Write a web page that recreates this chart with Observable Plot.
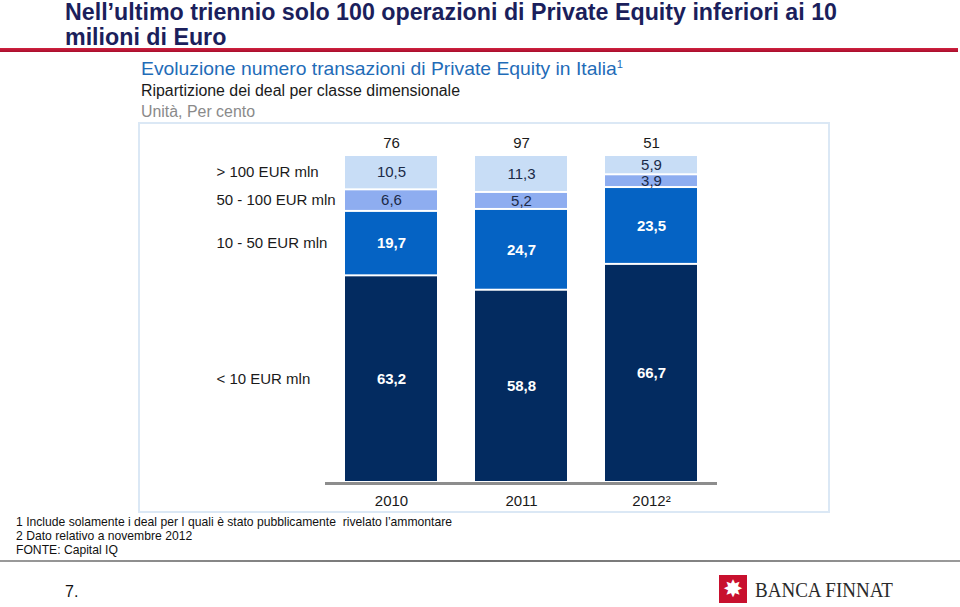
<!DOCTYPE html>
<html><head><meta charset="utf-8">
<script src="https://cdn.jsdelivr.net/npm/d3@7"></script>
<script src="https://cdn.jsdelivr.net/npm/@observablehq/plot@0.6"></script>
<style>
body{margin:0;width:960px;height:607px;position:relative;overflow:hidden;background:#fff;font-family:"Liberation Sans",Arial,sans-serif;}
.abs{position:absolute;white-space:nowrap;transform-origin:0 0;}
</style></head><body>
<div id="t1" class="abs" style="left:65px;top:1px;font-size:23px;line-height:23px;font-weight:bold;color:#1b1f5c;">Nell’ultimo triennio solo 100 operazioni di Private Equity inferiori ai 10</div>
<div id="t2" class="abs" style="left:65px;top:26px;font-size:23px;line-height:23px;font-weight:bold;color:#1b1f5c;">milioni di Euro</div>
<div class="abs" style="left:0;top:48px;width:958px;height:4px;background:linear-gradient(#d0223f,#a80d2c);"></div>
<div id="s1" class="abs" style="left:141px;top:55px;font-size:19px;line-height:19px;color:#1f6cb8;">Evoluzione numero transazioni di Private Equity in Italia<sup style="font-size:11px;vertical-align:7px;">1</sup></div>
<div id="s2" class="abs" style="left:141px;top:83px;font-size:16px;line-height:16px;color:#1a1a1a;">Ripartizione dei deal per classe dimensionale</div>
<div id="s3" class="abs" style="left:141px;top:104px;font-size:16px;line-height:16px;color:#8a8a8a;">Unità, Per cento</div>
<div class="abs" style="left:138px;top:122px;width:692px;height:391px;box-sizing:border-box;border:2px solid #dbe8f5;"></div>
<div id="chart" class="abs" style="left:138px;top:123px;"></div>
<div id="f1" class="abs" style="left:16px;top:515px;font-size:13.5px;line-height:13.5px;color:#111;">1 Include solamente i deal per I quali è stato pubblicamente&nbsp; rivelato l’ammontare</div>
<div id="f2" class="abs" style="left:16px;top:529px;font-size:13.5px;line-height:13.5px;color:#111;">2 Dato relativo a novembre 2012</div>
<div id="f3" class="abs" style="left:16px;top:543px;font-size:13.5px;line-height:13.5px;color:#111;">FONTE: Capital IQ</div>
<div class="abs" style="left:0;top:560px;width:960px;height:2px;background:linear-gradient(90deg,#9a9a9a,#6f6f6f 50%,#9a9a9a);"></div>
<div class="abs" style="left:65px;top:584px;font-size:16px;line-height:16px;color:#111;">7.</div>
<div class="abs" style="left:719px;top:575px;width:28px;height:28px;background:#c8102e;color:#fff;font-family:'DejaVu Sans';font-size:24px;line-height:28px;text-align:center;">✸</div>
<div id="logo" class="abs" style="left:755px;top:580px;font-family:'Liberation Serif','Times New Roman',serif;font-size:20px;line-height:20px;color:#2a2a2a;">BANCA FINNAT</div>
<script>
const years = ["2010", "2011", "2012"];
const yearLabels = ["2010", "2011", "2012²"];
const totals = [76, 97, 51];
const classes = ["< 10 EUR mln", "10 - 50 EUR mln", "50 - 100 EUR mln", "> 100 EUR mln"];
const under10 = [63.2, 58.8, 66.7];
const from10to50 = [19.7, 24.7, 23.5];
const from50to100 = [6.6, 5.2, 3.9];
const over100 = [10.5, 11.3, 5.9];
const colors = ["#032b60", "#0563c4", "#8eadf0", "#c8ddf6"];

const series = [under10, from10to50, from50to100, over100];
const rows = [];
classes.forEach((c, i) => years.forEach((y, j) => rows.push({year: y, cls: c, value: series[i][j], dark: i < 2})));
const fmt = v => v.toFixed(1).replace(".", ",");
const stack = o => Plot.stackY({x: "year", y: "value", z: "cls", order: classes, ...o});

const chart = Plot.plot({
  width: 692, height: 390,
  marginLeft: 169, marginRight: 95, marginTop: 32, marginBottom: 31,
  x: {domain: years, padding: 0.29, axis: null},
  y: {domain: [0, 100], axis: null},
  color: {domain: classes, range: colors},
  style: {fontFamily: "'Liberation Sans', Arial, sans-serif", fontSize: "15px", background: "transparent", overflow: "visible"},
  marks: [
    Plot.barY(rows, stack({fill: "cls", insetTop: 1, insetBottom: 1})),
    Plot.ruleY([0], {stroke: "#8d8d8d", strokeWidth: 3, insetLeft: 18, insetRight: 18, dy: 1}),
    Plot.text(rows, stack({text: d => d.dark ? fmt(d.value) : null, fill: "white", fontWeight: "bold"})),
    Plot.text(rows, stack({text: d => d.dark ? null : fmt(d.value), fill: "#1b2a48"})),
    Plot.text(rows, stack({text: d => d.year === "2010" ? d.cls : null, dx: -175, textAnchor: "start", fill: "#1a1a1a"})),
    Plot.text(years, {x: d => d, y: () => 100, text: (d, i) => String(totals[i]), dy: -12, fill: "#1a1a1a"}),
    Plot.text(years, {x: d => d, y: () => 0, text: (d, i) => yearLabels[i], dy: 19, fill: "#1a1a1a"})
  ]
});
document.getElementById("chart").appendChild(chart);

function fit(id, w, others = []) {
  const el = document.getElementById(id);
  const r = el.getBoundingClientRect().width;
  const s = `scaleX(${w / r})`;
  el.style.transform = s;
  others.forEach(o => document.getElementById(o).style.transform = s);
}
fit("t1", 772, ["t2"]);
fit("s1", 482);
fit("s2", 319, ["s3"]);
fit("f1", 436, ["f2", "f3"]);
fit("logo", 138);
</script>
</body></html>
